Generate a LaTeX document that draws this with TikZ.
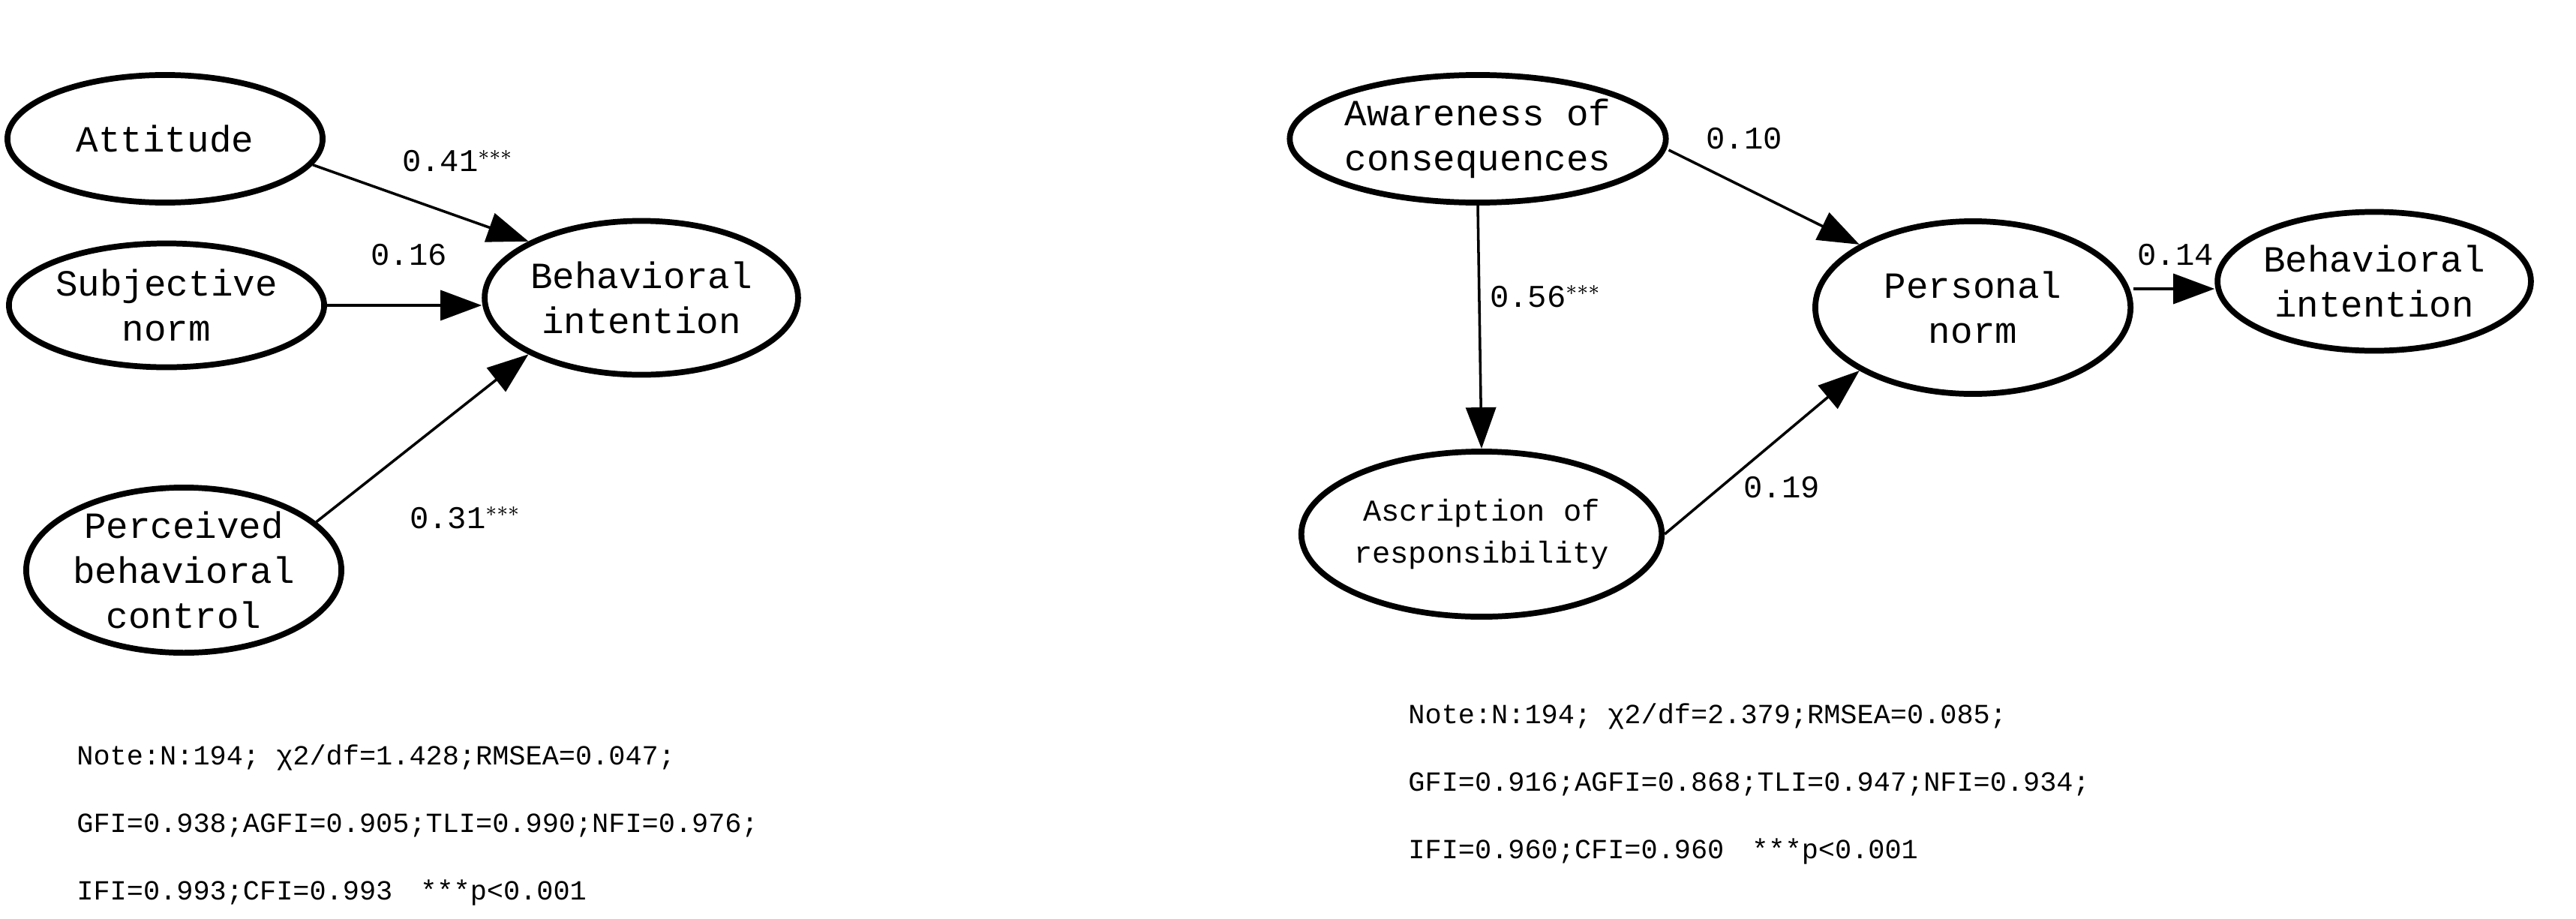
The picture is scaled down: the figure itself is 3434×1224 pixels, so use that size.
\documentclass[tikz,border=0pt]{standalone}
\usepackage{fontspec}
\setmainfont{Liberation Mono}
\usetikzlibrary{arrows.meta,shapes.geometric}
\begin{document}
\begin{tikzpicture}[x=0.01cm,y=-0.01cm,
  el/.style={draw,line width=2.2pt,ellipse,inner sep=0pt,font=\fontsize{14}{17}\selectfont,align=center},
  arr/.style={line width=1pt,-{Triangle[length=0.55cm,width=0.4cm]}},
  lab/.style={font=\fontsize{12}{14}\selectfont},
  note/.style={font=\fontsize{10.5}{12}\selectfont,anchor=west}]
\useasboundingbox (0,0) rectangle (3434,1224);
\node[el,minimum width=4.2cm,minimum height=1.7cm] (att) at (220,185) {Attitude};
\node[el,minimum width=4.2cm,minimum height=1.65cm] (sn) at (222,407) {Subjective\\norm};
\node[el,minimum width=4.2cm,minimum height=2.0cm] (pbc) at (245,760) {Perceived\\behavioral\\control};
\node[el,minimum width=3.5cm,minimum height=2.05cm] (bi1) at (855,397) {Behavioral\\intention};
\draw[arr] (att.-10) -- (bi1.north west);
\draw[arr] (sn) -- (sn -| bi1.west);
\draw[arr] (pbc.20) -- (bi1.south west);
\node[lab] (l1) at (610,215) {0.41$^{***}$};
\node[lab] (l2) at (545,340) {0.16};
\node[lab] (l3) at (620,690) {0.31$^{***}$};
\node[note] (n1) at (90,1010) {Note:N:194; χ2/df=1.428;RMSEA=0.047;};
\node[note] (n2) at (90,1100) {GFI=0.938;AGFI=0.905;TLI=0.990;NFI=0.976;};
\node[note] (n3) at (90,1190) {IFI=0.993;CFI=0.993\quad ***p<0.001};
\node[el,minimum width=4.1cm,minimum height=1.7cm] (aoc) at (1970,185) {Awareness of\\consequences};
\node[el,minimum width=4.2cm,minimum height=2.3cm] (pn) at (2630,410) {Personal\\norm};
\node[el,minimum width=3.55cm,minimum height=1.85cm] (bi2) at (3165,375) {Behavioral\\intention};
\node[el,minimum width=4.0cm,minimum height=2.2cm,font=\fontsize{11.5}{16}\selectfont] (aor) at (1975,712) {Ascription of\\responsibility};
\draw[arr] (aoc.east) ++(0,15) coordinate (s1) -- (pn.north west);
\draw[arr] (aoc.south) -- (aor.north);
\draw[arr] (aor.east) -- (pn.south west);
\draw[arr] (pn.east) ++(0,-25) coordinate (s2) -- (s2 -| bi2.west);
\node[lab] (l4) at (2325,185) {0.10};
\node[lab] (l5) at (2060,395) {0.56$^{***}$};
\node[lab] (l6) at (2375,650) {0.19};
\node[lab] (l7) at (2900,340) {0.14};
\node[note] (m1) at (1865,955) {Note:N:194; χ2/df=2.379;RMSEA=0.085;};
\node[note] (m2) at (1865,1045) {GFI=0.916;AGFI=0.868;TLI=0.947;NFI=0.934;};
\node[note] (m3) at (1865,1135) {IFI=0.960;CFI=0.960\quad ***p<0.001};
\end{tikzpicture}
\end{document}
